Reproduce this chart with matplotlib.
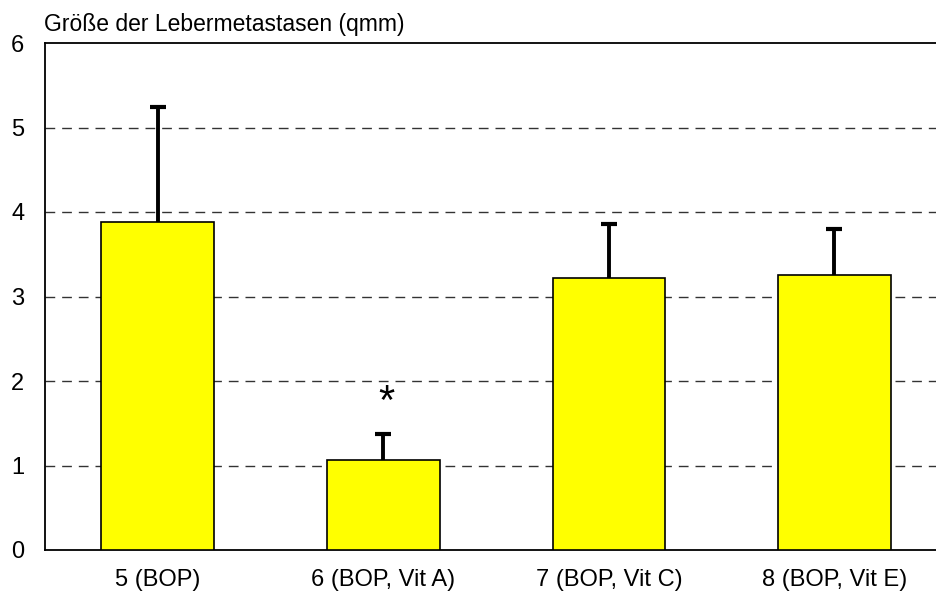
import matplotlib
matplotlib.use("Agg")
import matplotlib.pyplot as plt
import numpy as np

categories = ["5 (BOP)", "6 (BOP, Vit A)", "7 (BOP, Vit C)", "8 (BOP, Vit E)"]
values = [3.88, 1.06, 3.22, 3.25]
errors = [1.36, 0.31, 0.64, 0.55]
yticks = [0, 1, 2, 3, 4, 5, 6]
title = "Größe der Lebermetastasen (qmm)"
star_index = 1
star_y = 1.5

plt.rcParams['font.family'] = ['Liberation Sans', 'DejaVu Sans']

W, H = 936, 592
fig = plt.figure(figsize=(W / 100, H / 100), dpi=100)
left, right, bottom, top = 45, 936, 550, 43
ax = fig.add_axes([left / W, (H - bottom) / H, (right - left) / W, (bottom - top) / H])

x = np.arange(len(categories))
ax.bar(x, values, width=0.5, color="#FFFF00", edgecolor="black", linewidth=1.2, zorder=3)
eb = ax.errorbar(x, values, yerr=[np.zeros(len(errors)), errors], fmt="none",
                 ecolor="black", elinewidth=2.8, capsize=6, capthick=3, zorder=4)
# hide lower caps (sit on bar tops)
if len(eb[1]) >= 2:
    eb[1][0].set_visible(False)

ax.set_xlim(-0.5, 3.45)
ax.set_ylim(0, 6)
ax.set_yticks(yticks)
ax.set_xticks(x)
ax.set_xticklabels(categories)
ax.tick_params(axis="both", length=0, labelsize=17)
ax.tick_params(axis="y", pad=15)
ax.tick_params(axis="x", pad=14)

for yv in yticks[1:-1]:
    ax.axhline(yv, color="#333333", linewidth=1.0, dashes=(7, 5), zorder=1)

ax.spines["right"].set_visible(False)
for s in ("left", "bottom", "top"):
    ax.spines[s].set_color("black")
    ax.spines[s].set_linewidth(1.3)

ax.text(x[star_index] + 0.013, star_y, "*", ha="center", va="bottom", fontsize=30)

fig.text(44 / W, 1 - 24 / H, title, ha="left", va="center", fontsize=16.5)

fig.savefig("out.png", dpi=100)
